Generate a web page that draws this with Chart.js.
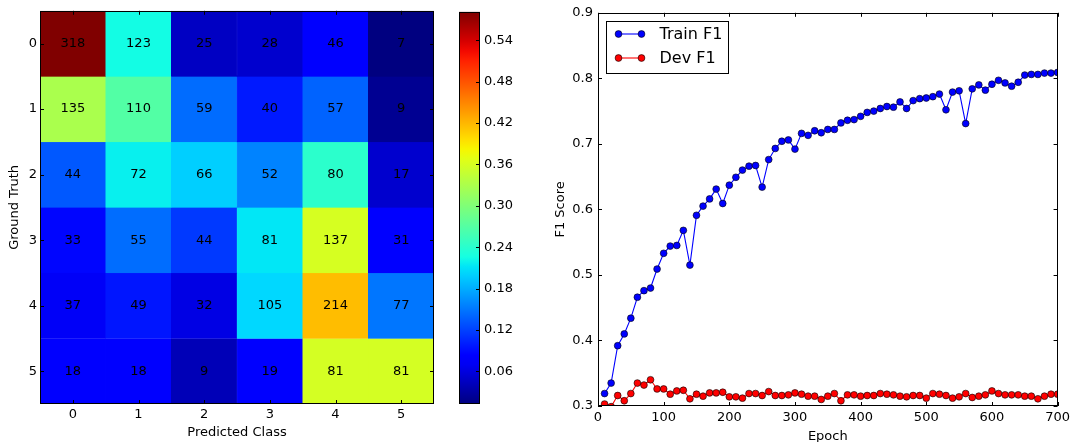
<!DOCTYPE html>
<html>
<head>
<meta charset="utf-8">
<title>Confusion matrix and F1 curves</title>
<script src="https://cdn.jsdelivr.net/npm/chart.js@4.4.1/dist/chart.umd.min.js"></script>
<style>
  html, body { margin: 0; padding: 0; background: #fff; }
  #page { position: relative; width: 1074px; height: 442px; overflow: hidden; }
  .box { position: absolute; top: 0; height: 442px; }
  #heatBox { left: 0; width: 440px; }
  #barBox { left: 459px; width: 81px; }
  #lineBox { left: 540px; width: 534px; }
</style>
</head>
<body>
<div id="page">
  <div class="box" id="heatBox"><canvas id="chartHeat"></canvas></div>
  <div class="box" id="barBox"><canvas id="chartBar"></canvas></div>
  <div class="box" id="lineBox"><canvas id="chartLine"></canvas></div>
</div>
<script>
// ---- data ----
const classes = ['0', '1', '2', '3', '4', '5'];
const counts0 = [318, 123, 25, 28, 46, 7];
const counts1 = [135, 110, 59, 40, 57, 9];
const counts2 = [44, 72, 66, 52, 80, 17];
const counts3 = [33, 55, 44, 81, 137, 31];
const counts4 = [37, 49, 32, 105, 214, 77];
const counts5 = [18, 18, 9, 19, 81, 81];
const counts = [counts0, counts1, counts2, counts3, counts4, counts5];
const colorbarTicks = [0.06, 0.12, 0.18, 0.24, 0.30, 0.36, 0.42, 0.48, 0.54];

const epochs = [10, 20, 30, 40, 50, 60, 70, 80, 90, 100,
  110, 120, 130, 140, 150, 160, 170, 180, 190, 200,
  210, 220, 230, 240, 250, 260, 270, 280, 290, 300,
  310, 320, 330, 340, 350, 360, 370, 380, 390, 400,
  410, 420, 430, 440, 450, 460, 470, 480, 490, 500,
  510, 520, 530, 540, 550, 560, 570, 580, 590, 600,
  610, 620, 630, 640, 650, 660, 670, 680, 690, 700];
const trainF1 = [0.319, 0.335, 0.392, 0.410, 0.434, 0.466, 0.476, 0.480, 0.509, 0.533,
  0.544, 0.545, 0.568, 0.515, 0.591, 0.605, 0.616, 0.631, 0.609, 0.637,
  0.649, 0.660, 0.666, 0.667, 0.634, 0.676, 0.693, 0.704, 0.706, 0.692,
  0.716, 0.713, 0.720, 0.717, 0.722, 0.722, 0.732, 0.736, 0.737, 0.742,
  0.748, 0.750, 0.754, 0.757, 0.756, 0.764, 0.754, 0.766, 0.769, 0.770,
  0.772, 0.776, 0.752, 0.779, 0.781, 0.731, 0.784, 0.790, 0.782, 0.791,
  0.797, 0.793, 0.788, 0.794, 0.805, 0.806, 0.806, 0.808, 0.808, 0.809];
const devF1 = [0.303, 0.299, 0.316, 0.308, 0.319, 0.335, 0.332, 0.340, 0.326, 0.326,
  0.318, 0.323, 0.324, 0.311, 0.318, 0.315, 0.320, 0.320, 0.321, 0.314,
  0.314, 0.312, 0.319, 0.319, 0.316, 0.322, 0.316, 0.316, 0.317, 0.320,
  0.318, 0.315, 0.315, 0.310, 0.315, 0.319, 0.308, 0.317, 0.317, 0.315,
  0.316, 0.316, 0.319, 0.318, 0.317, 0.315, 0.314, 0.316, 0.316, 0.312,
  0.319, 0.318, 0.316, 0.312, 0.314, 0.319, 0.313, 0.315, 0.317, 0.323,
  0.319, 0.317, 0.317, 0.317, 0.315, 0.315, 0.311, 0.315, 0.318, 0.318];
const xTicks = [0, 100, 200, 300, 400, 500, 600, 700];
const yTicks = [0.3, 0.4, 0.5, 0.6, 0.7, 0.8, 0.9];

(function () {
  'use strict';

  const FONT = "'DejaVu Sans', sans-serif";
  const TICK_LEN = 4;
  Chart.defaults.font.family = FONT;
  Chart.defaults.font.size = 13;
  Chart.defaults.color = '#000';
  Chart.defaults.animation = false;

  // matplotlib "jet" colormap
  const JET = {
    r: [[0, 0], [0.35, 0], [0.66, 1], [0.89, 1], [1, 0.5]],
    g: [[0, 0], [0.125, 0], [0.375, 1], [0.64, 1], [0.91, 0], [1, 0]],
    b: [[0, 0.5], [0.11, 1], [0.34, 1], [0.65, 0], [1, 0]]
  };
  function channel(pts, t) {
    for (let i = 1; i < pts.length; i++) {
      if (t <= pts[i][0]) {
        const a = pts[i - 1], b = pts[i];
        return a[1] + (b[1] - a[1]) * (t - a[0]) / (b[0] - a[0]);
      }
    }
    return pts[pts.length - 1][1];
  }
  function jet(t) {
    t = Math.max(0, Math.min(1, t));
    const r = Math.round(channel(JET.r, t) * 255);
    const g = Math.round(channel(JET.g, t) * 255);
    const b = Math.round(channel(JET.b, t) * 255);
    return 'rgb(' + r + ',' + g + ',' + b + ')';
  }

  // row-normalised rates drive the colours
  const rates = counts.map(function (row) {
    const sum = row.reduce(function (s, v) { return s + v; }, 0);
    return row.map(function (v) { return v / sum; });
  });
  const flat = [].concat.apply([], rates);
  const vmin = Math.min.apply(null, flat);
  const vmax = Math.max.apply(null, flat);
  function rateColor(v) { return jet((v - vmin) / (vmax - vmin)); }

  // inward tick marks + black frame, like classic matplotlib axes
  function frameTicks(sides) {
    return {
      id: 'frameTicks',
      afterDraw: function (chart) {
        const ctx = chart.ctx, a = chart.chartArea;
        ctx.save();
        ctx.strokeStyle = '#000';
        ctx.lineWidth = 1;
        ctx.strokeRect(Math.round(a.left) + 0.5, Math.round(a.top) + 0.5,
          Math.round(a.width) - 1, Math.round(a.height) - 1);
        ctx.beginPath();
        if (sides.x) {
          const xs = chart.scales.x;
          xs.ticks.forEach(function (t, i) {
            const px = Math.round(xs.getPixelForTick(i)) + 0.5;
            ctx.moveTo(px, a.bottom); ctx.lineTo(px, a.bottom - TICK_LEN);
            ctx.moveTo(px, a.top); ctx.lineTo(px, a.top + TICK_LEN);
          });
        }
        if (sides.y) {
          const ys = chart.scales.y;
          ys.ticks.forEach(function (t, i) {
            const py = Math.round(ys.getPixelForTick(i)) + 0.5;
            if (sides.y !== 'right') {
              ctx.moveTo(a.left, py); ctx.lineTo(a.left + TICK_LEN, py);
            }
            ctx.moveTo(a.right, py); ctx.lineTo(a.right - TICK_LEN, py);
          });
        }
        ctx.stroke();
        ctx.restore();
      }
    };
  }

  // ============ CONFUSION MATRIX ============
  const cellLabels = {
    id: 'cellLabels',
    afterDatasetsDraw: function (chart) {
      const ctx = chart.ctx;
      ctx.save();
      ctx.font = '13px ' + FONT;
      ctx.fillStyle = '#000';
      ctx.textAlign = 'center';
      ctx.textBaseline = 'middle';
      chart.data.datasets.forEach(function (ds, r) {
        chart.getDatasetMeta(r).data.forEach(function (bar, c) {
          ctx.fillText(String(counts[r][c]), bar.x, (bar.y + bar.base) / 2);
        });
      });
      ctx.restore();
    }
  };

  new Chart(document.getElementById('chartHeat'), {
    type: 'bar',
    data: {
      labels: classes,
      datasets: counts.map(function (row, r) {
        const colors = rates[r].map(rateColor);
        return {
          label: 'Ground truth ' + classes[r],
          data: row.map(function () { return [r - 0.5, r + 0.5]; }),
          backgroundColor: colors,
          borderColor: colors,
          borderWidth: 0.5,
          borderSkipped: false,
          grouped: false,
          barPercentage: 1,
          categoryPercentage: 1
        };
      })
    },
    options: {
      responsive: true,
      maintainAspectRatio: false,
      layout: { padding: { top: 9, right: 6, bottom: 0, left: 0 } },
      plugins: { legend: { display: false }, tooltip: { enabled: false } },
      scales: {
        x: {
          type: 'category',
          offset: true,
          grid: { display: false, drawTicks: false },
          border: { display: false },
          ticks: { padding: 3 },
          title: { display: true, text: 'Predicted Class', padding: { top: 0, bottom: 2 } },
          afterFit: function (s) { s.height = 38; }
        },
        y: {
          type: 'linear',
          reverse: true,
          min: -0.5,
          max: 5.5,
          grid: { display: false, drawTicks: false },
          border: { display: false },
          afterBuildTicks: function (s) {
            s.ticks = classes.map(function (c, i) { return { value: i }; });
          },
          ticks: { padding: 3, callback: function (v) { return classes[v]; } },
          title: { display: true, text: 'Ground Truth', padding: { top: 7, bottom: 0 } },
          afterFit: function (s) { s.width = 40; }
        }
      }
    },
    plugins: [cellLabels, frameTicks({ x: true, y: true })]
  });

  // ============ COLORBAR ============
  new Chart(document.getElementById('chartBar'), {
    type: 'bar',
    data: {
      labels: ['rate'],
      datasets: [{
        data: [[vmin, vmax]],
        backgroundColor: function (c) {
          const a = c.chart.chartArea;
          if (!a) return '#000080';
          const g = c.chart.ctx.createLinearGradient(0, a.bottom, 0, a.top);
          for (let i = 0; i <= 40; i++) g.addColorStop(i / 40, jet(i / 40));
          return g;
        },
        borderWidth: 0,
        barPercentage: 1,
        categoryPercentage: 1
      }]
    },
    options: {
      responsive: true,
      maintainAspectRatio: false,
      layout: { padding: { top: 9, right: 0, bottom: 38, left: 0 } },
      plugins: { legend: { display: false }, tooltip: { enabled: false } },
      scales: {
        x: { display: false, offset: true },
        y: {
          position: 'right',
          min: vmin,
          max: vmax,
          grid: { display: false, drawTicks: false },
          border: { display: false },
          afterBuildTicks: function (s) {
            s.ticks = colorbarTicks.map(function (v) { return { value: v }; });
          },
          ticks: { padding: 4, callback: function (v) { return v.toFixed(2); } },
          afterFit: function (s) { s.width = 60; }
        }
      }
    },
    plugins: [frameTicks({ y: 'right' })]
  });

  // ============ F1 CURVES ============
  const legendBox = {
    id: 'legendBox',
    afterDraw: function (chart) {
      const ctx = chart.ctx, a = chart.chartArea;
      const x0 = Math.round(a.left + 8) + 0.5, y0 = Math.round(a.top + 8) + 0.5;
      ctx.save();
      ctx.fillStyle = '#fff';
      ctx.strokeStyle = '#000';
      ctx.lineWidth = 1;
      ctx.fillRect(x0, y0, 122, 52);
      ctx.strokeRect(x0, y0, 122, 52);
      ctx.font = '16px ' + FONT;
      ctx.textBaseline = 'middle';
      chart.data.datasets.forEach(function (ds, i) {
        const yy = y0 + 12.5 + i * 24;
        ctx.strokeStyle = ds.borderColor;
        ctx.lineWidth = 1.1;
        ctx.beginPath();
        ctx.moveTo(x0 + 12, yy); ctx.lineTo(x0 + 35, yy);
        ctx.stroke();
        [x0 + 12, x0 + 35].forEach(function (mx) {
          ctx.beginPath();
          ctx.arc(mx, yy, 3.4, 0, Math.PI * 2);
          ctx.fillStyle = ds.pointBackgroundColor;
          ctx.fill();
          ctx.lineWidth = 0.6;
          ctx.strokeStyle = '#000';
          ctx.stroke();
        });
        ctx.fillStyle = '#000';
        ctx.fillText(ds.label, x0 + 53, yy + 1);
      });
      ctx.restore();
    }
  };

  function series(values) {
    return epochs.map(function (e, i) { return { x: e, y: values[i] }; });
  }

  new Chart(document.getElementById('chartLine'), {
    type: 'line',
    data: {
      datasets: [
        {
          label: 'Train F1',
          data: series(trainF1),
          borderColor: '#0000ff',
          borderWidth: 1.1,
          pointBackgroundColor: '#0000ff',
          pointBorderColor: '#000',
          pointBorderWidth: 0.6,
          pointRadius: 3.4,
          tension: 0,
          clip: 0
        },
        {
          label: 'Dev F1',
          data: series(devF1),
          borderColor: '#ff0000',
          borderWidth: 1.1,
          pointBackgroundColor: '#ff0000',
          pointBorderColor: '#000',
          pointBorderWidth: 0.6,
          pointRadius: 3.4,
          tension: 0,
          clip: 0
        }
      ]
    },
    options: {
      responsive: true,
      maintainAspectRatio: false,
      layout: { padding: { top: 12, right: 13, bottom: 0, left: 0 } },
      plugins: { legend: { display: false }, tooltip: { enabled: false } },
      scales: {
        x: {
          type: 'linear',
          min: 0,
          max: 700,
          grid: { display: false, drawTicks: false },
          border: { display: false },
          afterBuildTicks: function (s) {
            s.ticks = xTicks.map(function (v) { return { value: v }; });
          },
          ticks: { padding: 4, callback: function (v) { return String(v); } },
          title: { display: true, text: 'Epoch', padding: { top: 0, bottom: -2 } },
          afterFit: function (s) { s.height = 36; }
        },
        y: {
          type: 'linear',
          min: 0.3,
          max: 0.9,
          grid: { display: false, drawTicks: false },
          border: { display: false },
          afterBuildTicks: function (s) {
            s.ticks = yTicks.map(function (v) { return { value: v }; });
          },
          ticks: { padding: 5, callback: function (v) { return v.toFixed(1); } },
          title: { display: true, text: 'F1 Score', padding: { top: 13, bottom: 0 } },
          afterFit: function (s) { s.width = 58; }
        }
      }
    },
    plugins: [frameTicks({ x: true, y: true }), legendBox]
  });
})();
</script>
</body>
</html>
